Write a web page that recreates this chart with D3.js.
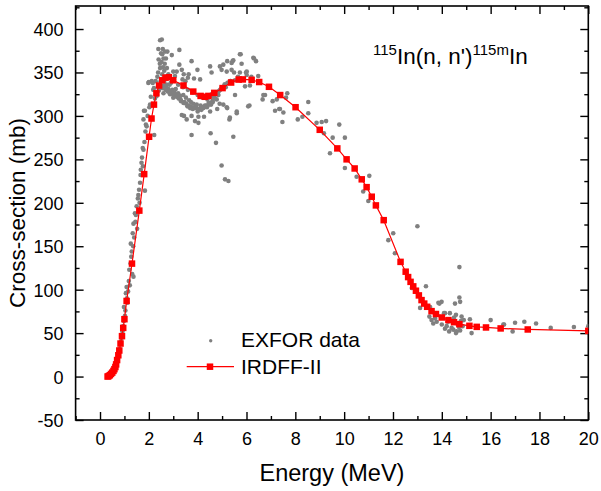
<!DOCTYPE html>
<html>
<head>
<meta charset="utf-8">
<script src="https://cdn.jsdelivr.net/npm/d3@7"></script>
<style>
body { margin: 0; background: #fff; }
text { font-family: Arial, "Liberation Sans", sans-serif; fill: #000; }
</style>
</head>
<body>
<div id="chart"></div>
<script>
// IRDFF-II evaluated curve
var irdffE = [0.31, 0.35, 0.40, 0.45, 0.50, 0.55, 0.59, 0.63, 0.66, 0.70, 0.75, 0.79, 0.84, 0.90, 0.95, 1.00,
    1.09, 1.31, 1.61, 1.81, 2.01, 2.11, 2.21, 2.31, 2.42, 2.55, 2.68, 2.82, 3.00, 3.42, 3.82, 4.12,
    4.30, 4.44, 4.68, 5.02, 5.37, 5.68, 5.85, 6.21, 6.52, 6.92, 7.38, 8.01, 9.00, 9.72, 10.10, 10.43,
    10.72, 10.92, 11.13, 11.30, 11.62, 12.31, 12.52, 12.62, 12.72, 12.83, 12.94, 13.06, 13.17, 13.28,
    13.40, 13.58, 13.76, 14.00, 14.27, 14.50, 14.72, 15.13, 15.43, 15.81, 16.41, 17.52, 20.00];
var irdffXS = [0, 0.5, 1.5, 3, 4.5, 6.5, 8.5, 11, 14, 19, 24.5, 30, 38, 46.5, 56, 66,
    87, 130, 191, 233, 276, 297, 313, 326, 335, 341, 344, 344.5, 341, 335, 328, 323,
    322, 323, 326.5, 332, 338.4, 341.8, 342, 341.5, 339, 333.5, 324, 310, 284, 262.6, 250, 239.5,
    227, 218, 207, 197, 180, 132, 120.7, 114.5, 109, 103.8, 98.8, 93.4, 88, 84,
    80.3, 75.3, 72, 68, 65, 62.6, 60.3, 58.4, 57.2, 56.5, 55.4, 54.2, 52.6];

// EXFOR measurements: [energy (MeV), cross-section (mb)]
var exforData = [
    [0.35, 1], [0.42, 2], [0.5, 5], [0.58, 8], [0.65, 13], [0.7, 18], [0.75, 25], [0.8, 32], [0.85, 40], [0.88, 44],
    [0.92, 52], [0.95, 58], [0.98, 64], [0.98, 80], [1.02, 70], [1.04, 76], [1.06, 96], [1.09, 103], [1.1, 90], [1.12, 85],
    [1.15, 98], [1.18, 110], [1.2, 123], [1.22, 105], [1.25, 130], [1.26, 153], [1.28, 138], [1.3, 144], [1.32, 118], [1.34, 165],
    [1.36, 150], [1.37, 115], [1.37, 176], [1.4, 160], [1.43, 188], [1.45, 178], [1.47, 186], [1.5, 196], [1.52, 170], [1.55, 205],
    [1.57, 209], [1.6, 215], [1.62, 200], [1.64, 223], [1.66, 232], [1.67, 238], [1.7, 246], [1.72, 252], [1.75, 263], [1.76, 242],
    [1.78, 261], [1.78, 296], [1.8, 306], [1.82, 270], [1.84, 214], [1.84, 306], [1.86, 282], [1.88, 290], [1.91, 288], [1.95, 300],
    [1.98, 338], [2.0, 339], [2.02, 310], [2.05, 313], [2.08, 322], [2.12, 340], [2.16, 338], [2.18, 330], [2.21, 332], [2.22, 278],
    [2.25, 320], [2.28, 340], [2.32, 323], [2.35, 345], [2.38, 350], [2.39, 377], [2.4, 365], [2.42, 330], [2.45, 360], [2.46, 387],
    [2.46, 355], [2.48, 340], [2.5, 372], [2.52, 362], [2.53, 388], [2.55, 371], [2.55, 348], [2.56, 332], [2.57, 377], [2.58, 356],
    [2.6, 366], [2.6, 326], [2.62, 340], [2.63, 352], [2.65, 360], [2.66, 374], [2.67, 345], [2.68, 330], [2.7, 366], [2.72, 336],
    [2.74, 355], [2.76, 374], [2.78, 328], [2.8, 348], [2.85, 336], [2.87, 325], [2.9, 338], [2.94, 370], [2.96, 330], [3.0, 351],
    [3.0, 321], [3.05, 327], [3.07, 346], [3.1, 331], [3.14, 351], [3.14, 322], [3.2, 326], [3.25, 376], [3.25, 359], [3.28, 323],
    [3.3, 319], [3.35, 353], [3.35, 301], [3.38, 342], [3.41, 324], [3.43, 348], [3.44, 300], [3.46, 316], [3.5, 340], [3.52, 321],
    [3.55, 296], [3.58, 311], [3.6, 344], [3.63, 348], [3.65, 318], [3.69, 309], [3.72, 316], [3.75, 363], [3.75, 300], [3.75, 278],
    [3.8, 308], [3.82, 314], [3.85, 343], [3.89, 294], [3.92, 311], [3.96, 313], [3.99, 353], [4.0, 305], [4.03, 292], [4.03, 299],
    [4.1, 342], [4.12, 312], [4.18, 310], [4.23, 309], [4.26, 299], [4.3, 312], [4.38, 310], [4.45, 315], [4.51, 357], [4.51, 305],
    [4.53, 280], [4.55, 313], [4.57, 350], [4.57, 325], [4.62, 316], [4.7, 320], [4.75, 269], [4.78, 319], [4.8, 308], [4.85, 324],
    [4.9, 314], [4.91, 357], [4.92, 330], [4.98, 332], [4.98, 353], [4.98, 243], [5.05, 313], [5.05, 359], [5.1, 336], [5.12, 227],
    [5.19, 310], [5.19, 351], [5.21, 363], [5.21, 309], [5.26, 338], [5.26, 225], [5.3, 296], [5.32, 298], [5.35, 340], [5.39, 353],
    [5.39, 361], [5.43, 363], [5.46, 276], [5.46, 364], [5.49, 350], [5.53, 341], [5.53, 324], [5.6, 303], [5.6, 305], [5.65, 345],
    [5.73, 350], [5.73, 371], [5.76, 371], [5.8, 360], [5.94, 334], [5.98, 350], [6.01, 351], [6.01, 347], [6.07, 311], [6.12, 312],
    [6.14, 335], [6.2, 345], [6.28, 367], [6.31, 366], [6.39, 363], [6.48, 346], [6.66, 319], [6.69, 324], [6.76, 324], [7.07, 317],
    [7.17, 306], [7.24, 319], [7.34, 308], [7.37, 308], [7.47, 293], [7.51, 304], [7.62, 321], [7.67, 326], [8.1, 296], [8.29, 299],
    [8.53, 303], [8.53, 316], [8.87, 292], [9.08, 293], [9.17, 280], [9.26, 294], [9.42, 257], [9.53, 275], [9.8, 290], [10.03, 275],
    [10.03, 240], [10.51, 230], [10.78, 213], [10.99, 202], [11.03, 231], [11.81, 157], [12.01, 165], [12.08, 142], [12.77, 102], [13.0, 173],
    [13.11, 79], [13.35, 104], [13.49, 69], [13.52, 80], [13.58, 65], [13.65, 61], [13.72, 67], [13.79, 63], [13.86, 85], [13.9, 84],
    [13.99, 86], [14.0, 60], [14.09, 73], [14.13, 55], [14.13, 73], [14.2, 58], [14.25, 63], [14.3, 52], [14.33, 73], [14.33, 65],
    [14.4, 56], [14.47, 54], [14.5, 68], [14.54, 84], [14.58, 71], [14.58, 50], [14.61, 52], [14.65, 60], [14.7, 57], [14.72, 126],
    [14.72, 91], [14.75, 86], [14.75, 53], [14.78, 64], [14.81, 69], [14.85, 58], [14.9, 65], [15.15, 66], [15.22, 50], [16.0, 65],
    [16.52, 60], [16.55, 60], [16.9, 52], [17.0, 62], [17.38, 63], [17.86, 61], [18.46, 56], [19.41, 57], [20.0, 58],
    // lower band of the 2-5.5 MeV region
    [2.3, 325], [2.4, 329], [2.5, 333], [2.6, 335], [2.7, 334], [2.8, 331], [2.9, 328], [3.02, 325], [3.12, 323], [3.22, 320],
    [3.32, 317], [3.42, 315], [3.53, 314], [3.62, 312], [3.72, 311], [3.83, 309], [3.93, 309], [4.05, 308], [4.15, 307], [4.27, 310],
    [4.36, 312], [4.47, 313], [4.6, 317], [4.68, 322], [4.77, 326], [4.88, 329], [5.0, 333], [5.12, 336], [5.22, 338], [5.33, 340],
    [3.2, 336], [3.4, 333], [3.6, 330], [3.8, 327], [4.0, 324], [4.2, 321], [4.4, 319], [4.62, 322], [4.82, 327], [5.15, 333]
];

var xTicks = [0, 2, 4, 6, 8, 10, 12, 14, 16, 18, 20];
var xMinor = [-1, 1, 3, 5, 7, 9, 11, 13, 15, 17, 19];
var yTicks = [-50, 0, 50, 100, 150, 200, 250, 300, 350, 400];
var yMinor = [-25, 25, 75, 125, 175, 225, 275, 325, 375, 425];

var width = 601;
var height = 491;
var pLeft = 75.6, pRight = 588.3, pTop = 6, pBottom = 420;

var x = d3.scaleLinear().domain([-1, 20]).range([pLeft, pRight]);
var y = d3.scaleLinear().domain([-50, 426.5]).range([pBottom, pTop]);

var svg = d3.select('#chart')
    .append('svg')
    .attr('width', width)
    .attr('height', height);

svg.append('clipPath')
    .attr('id', 'plotClip')
    .append('rect')
    .attr('x', pLeft)
    .attr('y', pTop)
    .attr('width', pRight - pLeft)
    .attr('height', pBottom - pTop);

// axes: major + minor ticks pointing inward on all four sides
function styleAxis(g) {
    g.select('.domain').remove();
    g.selectAll('.tick line').attr('stroke', '#000').attr('stroke-width', 1.4);
}

// plain hyphen for negatives, like the original
var plainFmt = function (d) { return String(d); };

var xAxis = svg.append('g')
    .attr('transform', 'translate(0,' + pBottom + ')')
    .call(d3.axisBottom(x).tickValues(xTicks).tickSize(-8).tickPadding(0).tickFormat(plainFmt))
    .call(styleAxis);
xAxis.selectAll('text')
    .attr('y', 25).attr('dy', 0)
    .style('font-size', '18px');

svg.append('g')
    .attr('transform', 'translate(0,' + pBottom + ')')
    .call(d3.axisBottom(x).tickValues(xMinor).tickSize(-4).tickFormat(''))
    .call(styleAxis);

svg.append('g')
    .attr('transform', 'translate(0,' + pTop + ')')
    .call(d3.axisTop(x).tickValues(xTicks).tickSize(-8).tickFormat(''))
    .call(styleAxis);
svg.append('g')
    .attr('transform', 'translate(0,' + pTop + ')')
    .call(d3.axisTop(x).tickValues(xMinor).tickSize(-4).tickFormat(''))
    .call(styleAxis);

var yAxis = svg.append('g')
    .attr('transform', 'translate(' + pLeft + ',0)')
    .call(d3.axisLeft(y).tickValues(yTicks).tickSize(-8).tickPadding(12).tickFormat(plainFmt))
    .call(styleAxis);
yAxis.selectAll('text')
    .attr('dy', '0.36em')
    .style('font-size', '18px');

var yMinorIn = yMinor.filter(function (d) { return d < 426; });

svg.append('g')
    .attr('transform', 'translate(' + pLeft + ',0)')
    .call(d3.axisLeft(y).tickValues(yMinorIn).tickSize(-4).tickFormat(''))
    .call(styleAxis);

svg.append('g')
    .attr('transform', 'translate(' + pRight + ',0)')
    .call(d3.axisRight(y).tickValues(yTicks).tickSize(-8).tickFormat(''))
    .call(styleAxis);
svg.append('g')
    .attr('transform', 'translate(' + pRight + ',0)')
    .call(d3.axisRight(y).tickValues(yMinorIn).tickSize(-4).tickFormat(''))
    .call(styleAxis);

// frame
svg.append('rect')
    .attr('x', pLeft)
    .attr('y', pTop)
    .attr('width', pRight - pLeft)
    .attr('height', pBottom - pTop)
    .attr('fill', 'none')
    .attr('stroke', '#000')
    .attr('stroke-width', 1.6);

var plot = svg.append('g').attr('clip-path', 'url(#plotClip)');

// EXFOR points
plot.selectAll('circle.exfor')
    .data(exforData)
    .enter()
    .append('circle')
    .attr('class', 'exfor')
    .attr('cx', function (d) { return x(d[0]); })
    .attr('cy', function (d) { return y(d[1]); })
    .attr('r', 2.3)
    .attr('fill', '#808080');

// IRDFF-II line + squares
var irdff = irdffE.map(function (e, i) { return [e, irdffXS[i]]; });

var line = d3.line()
    .x(function (d) { return x(d[0]); })
    .y(function (d) { return y(d[1]); });

plot.append('path')
    .datum(irdff)
    .attr('d', line)
    .attr('fill', 'none')
    .attr('stroke', '#ff0000')
    .attr('stroke-width', 1.2);

var sq = 6.5;
plot.selectAll('rect.irdff')
    .data(irdff)
    .enter()
    .append('rect')
    .attr('class', 'irdff')
    .attr('x', function (d) { return x(d[0]) - sq / 2; })
    .attr('y', function (d) { return y(d[1]) - sq / 2; })
    .attr('width', sq)
    .attr('height', sq)
    .attr('fill', '#ff0000');

// axis titles
svg.append('text')
    .attr('x', (pLeft + pRight) / 2)
    .attr('y', 481)
    .attr('text-anchor', 'middle')
    .style('font-size', '23.5px')
    .text('Energy (MeV)');

svg.append('text')
    .attr('transform', 'translate(25,' + ((pTop + pBottom) / 2) + ') rotate(-90)')
    .attr('text-anchor', 'middle')
    .style('font-size', '22.5px')
    .text('Cross-section (mb)');

// reaction label
var title = svg.append('text')
    .attr('x', 373)
    .attr('y', 63.5);
title.append('tspan').attr('dy', -8.5).style('font-size', '15px').text('115');
title.append('tspan').attr('dy', 8.5).style('font-size', '22.5px').text("In(n, n')");
title.append('tspan').attr('dy', -8.5).style('font-size', '15px').text('115m');
title.append('tspan').attr('dy', 8.5).style('font-size', '22.5px').text('In');

// legend
svg.append('circle')
    .attr('cx', 210.7)
    .attr('cy', 340.7)
    .attr('r', 1.7)
    .attr('fill', '#808080');
svg.append('text')
    .attr('x', 241)
    .attr('y', 347)
    .style('font-size', '21px')
    .text('EXFOR data');

svg.append('line')
    .attr('x1', 186.7)
    .attr('x2', 234)
    .attr('y1', 366.7)
    .attr('y2', 366.7)
    .attr('stroke', '#ff0000')
    .attr('stroke-width', 1.2);
svg.append('rect')
    .attr('x', 210 - sq / 2)
    .attr('y', 366.7 - sq / 2)
    .attr('width', sq)
    .attr('height', sq)
    .attr('fill', '#ff0000');
svg.append('text')
    .attr('x', 241)
    .attr('y', 374)
    .style('font-size', '21px')
    .text('IRDFF-II');
</script>
</body>
</html>
